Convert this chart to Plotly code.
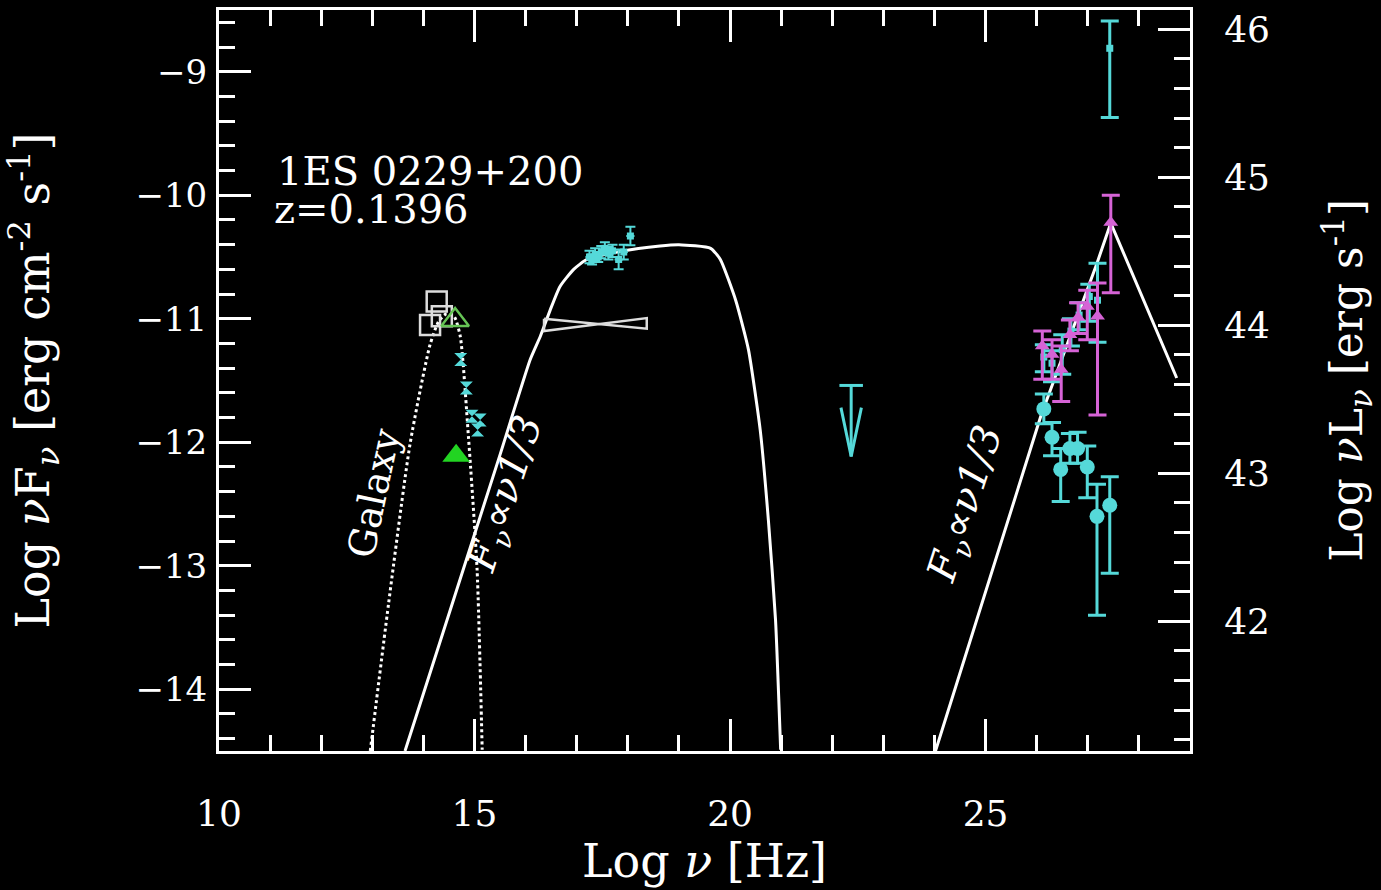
import plotly.graph_objects as go

# ---------------- data ----------------
# Galaxy template (dotted)
gal_curve_x = [12.96, 13.32, 13.74, 14.13, 14.30, 14.45, 14.60, 14.72, 14.88, 15.05, 15.15]
gal_curve_y = [-14.50, -13.30, -12.01, -11.21, -11.02, -10.96, -10.98, -11.14, -11.95, -13.03, -14.49]

# Host galaxy photometry (open squares)
gal_x = [14.13, 14.26, 14.36]
gal_y = [-11.05, -10.86, -10.98]

# Open / filled green triangles
tri_open_x = [14.62]
tri_open_y = [-11.01]
tri_fill_x = [14.64]
tri_fill_y = [-12.11]

# Optical/UV (cyan)
uv_x = [14.73, 14.84, 14.95, 15.06, 15.11]
uv_y = [-11.33, -11.56, -11.79, -11.90, -11.82]

# Synchrotron model (solid white)
sync_x = [13.64, 14.50, 15.50, 16.09, 16.29, 16.48, 16.67, 16.94, 17.20, 17.85,
          18.63, 19.00, 19.62, 19.81, 20.11, 20.36, 20.59, 20.75, 20.89, 20.99]
sync_y = [-14.50, -13.39, -12.10, -11.33, -11.14, -10.93, -10.74, -10.60, -10.52, -10.455,
          -10.41, -10.40, -10.43, -10.52, -10.85, -11.25, -11.90, -12.63, -13.44, -14.49]

# X-ray bow-tie
bow_x = [16.36, 18.37]
bow_top = [-11.00, -10.995]
bow_bot = [-11.10, -11.08]

# X-ray data (cyan)
xr_x = [17.25, 17.30, 17.36, 17.42, 17.48, 17.55, 17.62, 17.70, 17.82, 17.92, 18.05]
xr_y = [-10.50, -10.52, -10.48, -10.50, -10.46, -10.43, -10.47, -10.45, -10.52, -10.46, -10.33]
xr_ey = [0.05, 0.04, 0.05, 0.04, 0.05, 0.05, 0.05, 0.05, 0.08, 0.06, 0.075]

# Fermi upper limit
ul_x = [22.37]
ul_y = [-11.54]

# Inverse Compton model (solid white)
comp_x = [24.02, 26.08, 27.18, 27.45, 28.74]
comp_y = [-14.50, -11.79, -10.55, -10.225, -11.48]

# Observed TeV (cyan circles)
obs_x = [26.14, 26.30, 26.47, 26.65, 26.80, 26.99, 27.18, 27.43]
obs_y = [-11.73, -11.96, -12.22, -12.05, -12.05, -12.20, -12.60, -12.51]
obs_up = [0.12, 0.12, 0.17, 0.12, 0.13, 0.17, 0.26, 0.23]
obs_dn = [0.12, 0.15, 0.26, 0.12, 0.12, 0.25, 0.80, 0.55]

# De-absorbed TeV, model A (magenta triangles)
mag_x = [26.11, 26.30, 26.48, 26.65, 26.81, 26.99, 27.19, 27.45]
mag_y = [-11.22, -11.29, -11.41, -11.13, -10.99, -10.90, -10.98, -10.22]
mag_up = [0.12, 0.12, 0.19, 0.12, 0.12, 0.13, 0.27, 0.22]
mag_dn = [0.27, 0.20, 0.26, 0.13, 0.13, 0.27, 0.80, 0.57]

# De-absorbed TeV, model B (cyan squares)
b_x = [26.14, 26.30, 26.50, 26.67, 26.83, 27.03, 27.19, 27.43]
b_y = [-11.31, -11.36, -11.25, -11.10, -10.97, -10.82, -10.85, -8.81]
b_up = [0.10, 0.10, 0.12, 0.10, 0.10, 0.10, 0.30, 0.22]
b_dn = [0.12, 0.15, 0.20, 0.12, 0.12, 0.20, 0.34, 0.56]

x_ticks = [10, 15, 20, 25]
yl_ticks = [-14, -13, -12, -11, -10, -9]
yr_ticks = [42, 43, 44, 45, 46]

# ---------------- styling ----------------
WHITE = "#ffffff"
CYAN = "#55d9d9"
MAGENTA = "#d663d6"
GREEN = "#22d422"
LGREEN = "#66c455"
FONT = "DejaVu Serif"

fig = go.Figure()

# Galaxy template
fig.add_trace(go.Scatter(x=gal_curve_x, y=gal_curve_y, mode="lines",
                         line=dict(color=WHITE, width=3, dash="dot", shape="spline", smoothing=0.6),
                         showlegend=False))
# Synchrotron
fig.add_trace(go.Scatter(x=sync_x, y=sync_y, mode="lines",
                         line=dict(color=WHITE, width=3, shape="spline", smoothing=0.5),
                         showlegend=False))
# Compton
fig.add_trace(go.Scatter(x=comp_x, y=comp_y, mode="lines",
                         line=dict(color=WHITE, width=3),
                         showlegend=False))
# Bow-tie
fig.add_trace(go.Scatter(x=[bow_x[0], bow_x[1], bow_x[1], bow_x[0], bow_x[0]],
                         y=[bow_top[0], bow_bot[1], bow_top[1], bow_bot[0], bow_top[0]],
                         mode="lines", line=dict(color="#dddddd", width=2.5),
                         showlegend=False))
# Galaxy squares
fig.add_trace(go.Scatter(x=gal_x, y=gal_y, mode="markers",
                         marker=dict(symbol="square-open", size=20, color="#dddddd",
                                     line=dict(width=2.5, color="#dddddd")),
                         showlegend=False))
# Green triangles
fig.add_trace(go.Scatter(x=tri_open_x, y=tri_open_y, mode="markers",
                         marker=dict(symbol="triangle-up-open", size=24, color=LGREEN,
                                     line=dict(width=2.5, color=LGREEN)),
                         showlegend=False))
fig.add_trace(go.Scatter(x=tri_fill_x, y=tri_fill_y, mode="markers",
                         marker=dict(symbol="triangle-up", size=24, color=GREEN),
                         showlegend=False))
# UV
fig.add_trace(go.Scatter(x=uv_x, y=uv_y, mode="markers",
                         marker=dict(symbol="hourglass", size=13, color=CYAN),
                         showlegend=False))
# X-ray
fig.add_trace(go.Scatter(x=xr_x, y=xr_y, mode="markers",
                         marker=dict(symbol="square", size=7, color=CYAN),
                         error_y=dict(type="data", array=xr_ey, color=CYAN, thickness=2, width=5),
                         error_x=dict(type="constant", value=0.08, color=CYAN, thickness=2, width=0),
                         showlegend=False))
# Upper limit arrow
ux, uy = ul_x[0], ul_y[0]
fig.add_trace(go.Scatter(x=[ux - 0.23, ux + 0.23, None, ux, ux, None,
                            ux - 0.2, ux, ux + 0.2],
                         y=[uy, uy, None, uy, uy - 0.575, None,
                            uy - 0.18, uy - 0.575, uy - 0.18],
                         mode="lines", line=dict(color=CYAN, width=3),
                         showlegend=False))
# TeV model B (cyan squares)
fig.add_trace(go.Scatter(x=b_x, y=b_y, mode="markers",
                         marker=dict(symbol="square", size=7, color=CYAN),
                         error_y=dict(type="data", symmetric=False, array=b_up, arrayminus=b_dn,
                                      color=CYAN, thickness=3, width=9),
                         showlegend=False))
# TeV observed (cyan circles)
fig.add_trace(go.Scatter(x=obs_x, y=obs_y, mode="markers",
                         marker=dict(symbol="circle", size=15, color=CYAN),
                         error_y=dict(type="data", symmetric=False, array=obs_up, arrayminus=obs_dn,
                                      color=CYAN, thickness=3, width=9),
                         showlegend=False))
# TeV model A (magenta triangles)
fig.add_trace(go.Scatter(x=mag_x, y=mag_y, mode="markers",
                         marker=dict(symbol="triangle-up", size=13, color=MAGENTA),
                         error_y=dict(type="data", symmetric=False, array=mag_up, arrayminus=mag_dn,
                                      color=MAGENTA, thickness=3, width=9),
                         showlegend=False))
# dummy trace for right axis
fig.add_trace(go.Scatter(x=[10], y=[45], yaxis="y2", mode="markers",
                         marker=dict(size=1, opacity=0), showlegend=False, hoverinfo="skip"))

# ---------------- text ----------------
fig.add_annotation(x=0.0577, y=0.7827, xref="paper", yref="paper", xanchor="left", yanchor="middle",
                   text="1ES 0229+200", showarrow=False,
                   font=dict(family=FONT, size=40, color=WHITE))
fig.add_annotation(x=0.0550, y=0.7314, xref="paper", yref="paper", xanchor="left", yanchor="middle",
                   text="z=0.1396", showarrow=False,
                   font=dict(family=FONT, size=40, color=WHITE))
fig.add_annotation(x=13.03, y=-12.41, text="Galaxy", textangle=-78, showarrow=False,
                   font=dict(family=FONT, size=38, color=WHITE))
fig.add_annotation(x=15.64, y=-12.42, text="<i>F</i><sub><i>ν</i></sub><i>∝ν1/3</i>", textangle=-72,
                   showarrow=False, font=dict(family=FONT, size=40, color=WHITE))
fig.add_annotation(x=24.64, y=-12.50, text="<i>F</i><sub><i>ν</i></sub><i>∝ν1/3</i>", textangle=-72,
                   showarrow=False, font=dict(family=FONT, size=40, color=WHITE))

axis_common = dict(showline=True, linecolor=WHITE, linewidth=3, ticks="inside",
                   tickcolor=WHITE, tickwidth=2.5, ticklen=32, showgrid=False, zeroline=False,
                   automargin=False)

fig.update_layout(
    width=1381, height=890,
    paper_bgcolor="black", plot_bgcolor="black",
    margin=dict(l=219, r=191, t=10, b=139, pad=0),
    showlegend=False,
    xaxis=dict(range=[10, 29], tickvals=x_ticks, mirror="ticks",
               minor=dict(dtick=1, tick0=10, ticklen=16, ticks="inside", tickcolor=WHITE, tickwidth=2.5),
               ticklabelstandoff=29,
               tickfont=dict(family=FONT, size=36, color=WHITE),
               title=dict(text="Log <i>ν</i> [Hz]", font=dict(family=FONT, size=46, color=WHITE), standoff=2),
               **axis_common),
    yaxis=dict(range=[-14.5, -8.5], tickvals=yl_ticks,
               minor=dict(dtick=0.2, tick0=-15, ticklen=16, ticks="inside", tickcolor=WHITE, tickwidth=2.5),
               ticklabelstandoff=2,
               tickfont=dict(family=FONT, size=34, color=WHITE),
               title=dict(text="Log <i>ν</i>F<sub><i>ν</i></sub> [erg cm<sup>-2</sup> s<sup>-1</sup>]",
                          font=dict(family=FONT, size=46, color=WHITE), standoff=72),
               **axis_common),
    yaxis2=dict(range=[41.124, 46.13], tickvals=yr_ticks, overlaying="y", side="right",
                minor=dict(dtick=0.2, tick0=41, ticklen=16, ticks="inside", tickcolor=WHITE, tickwidth=2.5),
                ticklabelstandoff=24,
                tickfont=dict(family=FONT, size=36, color=WHITE),
                title=dict(text="Log <i>ν</i>L<sub><i>ν</i></sub> [erg s<sup>-1</sup>]",
                           font=dict(family=FONT, size=44, color=WHITE), standoff=63),
                **axis_common),
)

fig.write_html("out.html",
               config={"displayModeBar": False},
               post_script="document.body.style.margin='0';document.body.style.background='black';"
                           "document.documentElement.style.background='black';")
